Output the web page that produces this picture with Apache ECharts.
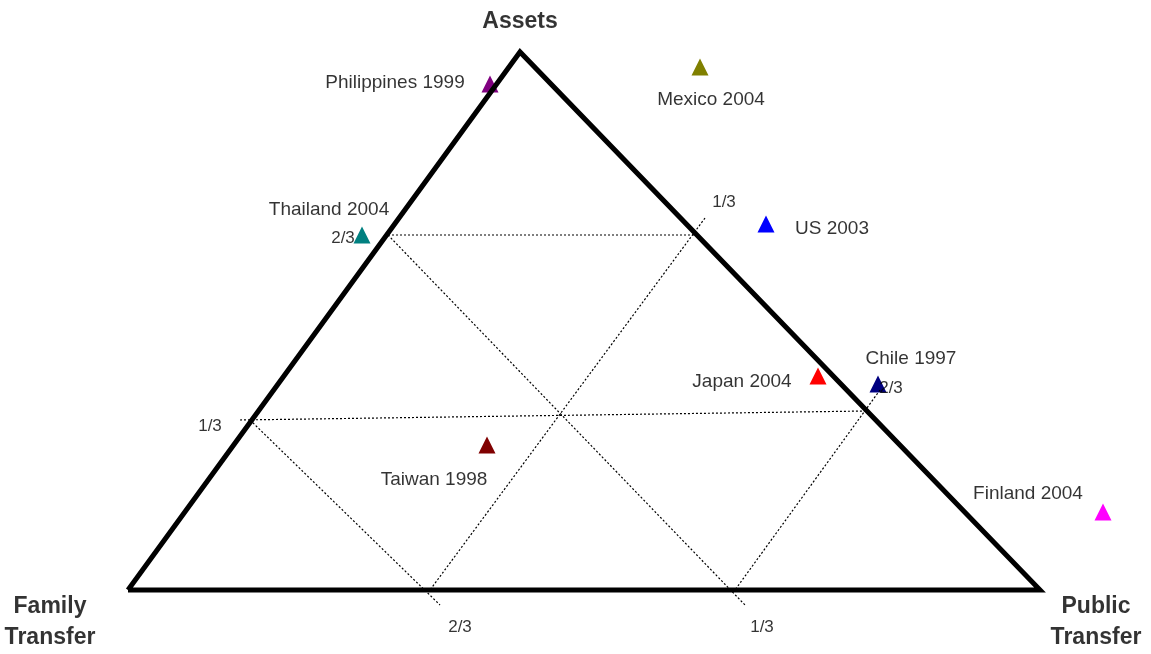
<!DOCTYPE html>
<html><head><meta charset="utf-8">
<script src="https://cdn.jsdelivr.net/npm/echarts@6/dist/echarts.min.js"></script>
<style>html,body{margin:0;background:#fff}#main{width:1151px;height:654px}</style>
</head><body><div id="main"></div>
<script>
// coordinates in the chart's own plane (x right, y down)
var countries = ['Philippines 1999','Mexico 2004','US 2003','Thailand 2004','Japan 2004','Chile 1997','Taiwan 1998','Finland 2004'];
var pointX = [490, 700, 766, 362, 818, 878, 487, 1103];
var pointY = [84, 67, 224, 235, 376, 384, 445, 512];
var colors = ['#800080','#808000','#0000ff','#008080','#ff0000','#000080','#800000','#ff00ff'];
var labelX = [395, 711, 832, 329, 742, 911, 434, 1028];
var labelY = [83, 100, 229, 210, 382, 359, 480, 494];

var triangle = [[128,590],[1040,590],[520,52],[128,590]];
var gridLines = [
  [[388,235],[697,235]],
  [[240,420],[866,411]],
  [[388,235],[745,605]],
  [[250,420],[440,605]],
  [[705,218],[430,590]],
  [[880,390],[735,590]]
];
var tickText = ['1/3','2/3','1/3','2/3','2/3','1/3'];
var tickX = [724, 343, 210, 460, 891, 762];
var tickY = [202, 238, 426, 627, 388, 627];
var axisText = ['Assets','Family\nTransfer','Public\nTransfer'];
var axisX = [520, 50, 1096];
var axisY = [22, 622, 622];

var series = [{
  type:'line', data:triangle, symbol:'none', silent:true,
  lineStyle:{color:'#000', width:5, join:'miter'}
}];
gridLines.forEach(function(g){
  series.push({type:'line', data:g, symbol:'none', silent:true,
    lineStyle:{color:'#000', width:1.2, type:[2,2]}});
});
series.push({
  type:'scatter', symbol:'triangle', symbolSize:17,
  data: countries.map(function(c,i){return {value:[pointX[i],pointY[i]], itemStyle:{color:colors[i], opacity:1}};})
});
function textSeries(txt,xs,ys,style){
  return {type:'scatter', symbolSize:0, silent:true,
    data: txt.map(function(t,i){return {value:[xs[i],ys[i]], label:Object.assign({show:true, formatter:t, position:'inside', color:'#000'}, style)};})};
}
series.push(textSeries(countries,labelX,labelY,{fontSize:19, fontFamily:'Liberation Sans'}));
series.push(textSeries(tickText,tickX,tickY,{fontSize:17, fontFamily:'Liberation Sans'}));
series.push(textSeries(axisText,axisX,axisY,{fontSize:23, fontWeight:'bold', fontFamily:'Liberation Sans', lineHeight:31}));

var myChart = echarts.init(document.getElementById('main'));
myChart.setOption({
  animation:false,
  grid:{left:0,right:0,top:0,bottom:0},
  xAxis:{type:'value', min:0, max:1151, show:false},
  yAxis:{type:'value', min:0, max:654, inverse:true, show:false},
  series:series
});
</script></body></html>
